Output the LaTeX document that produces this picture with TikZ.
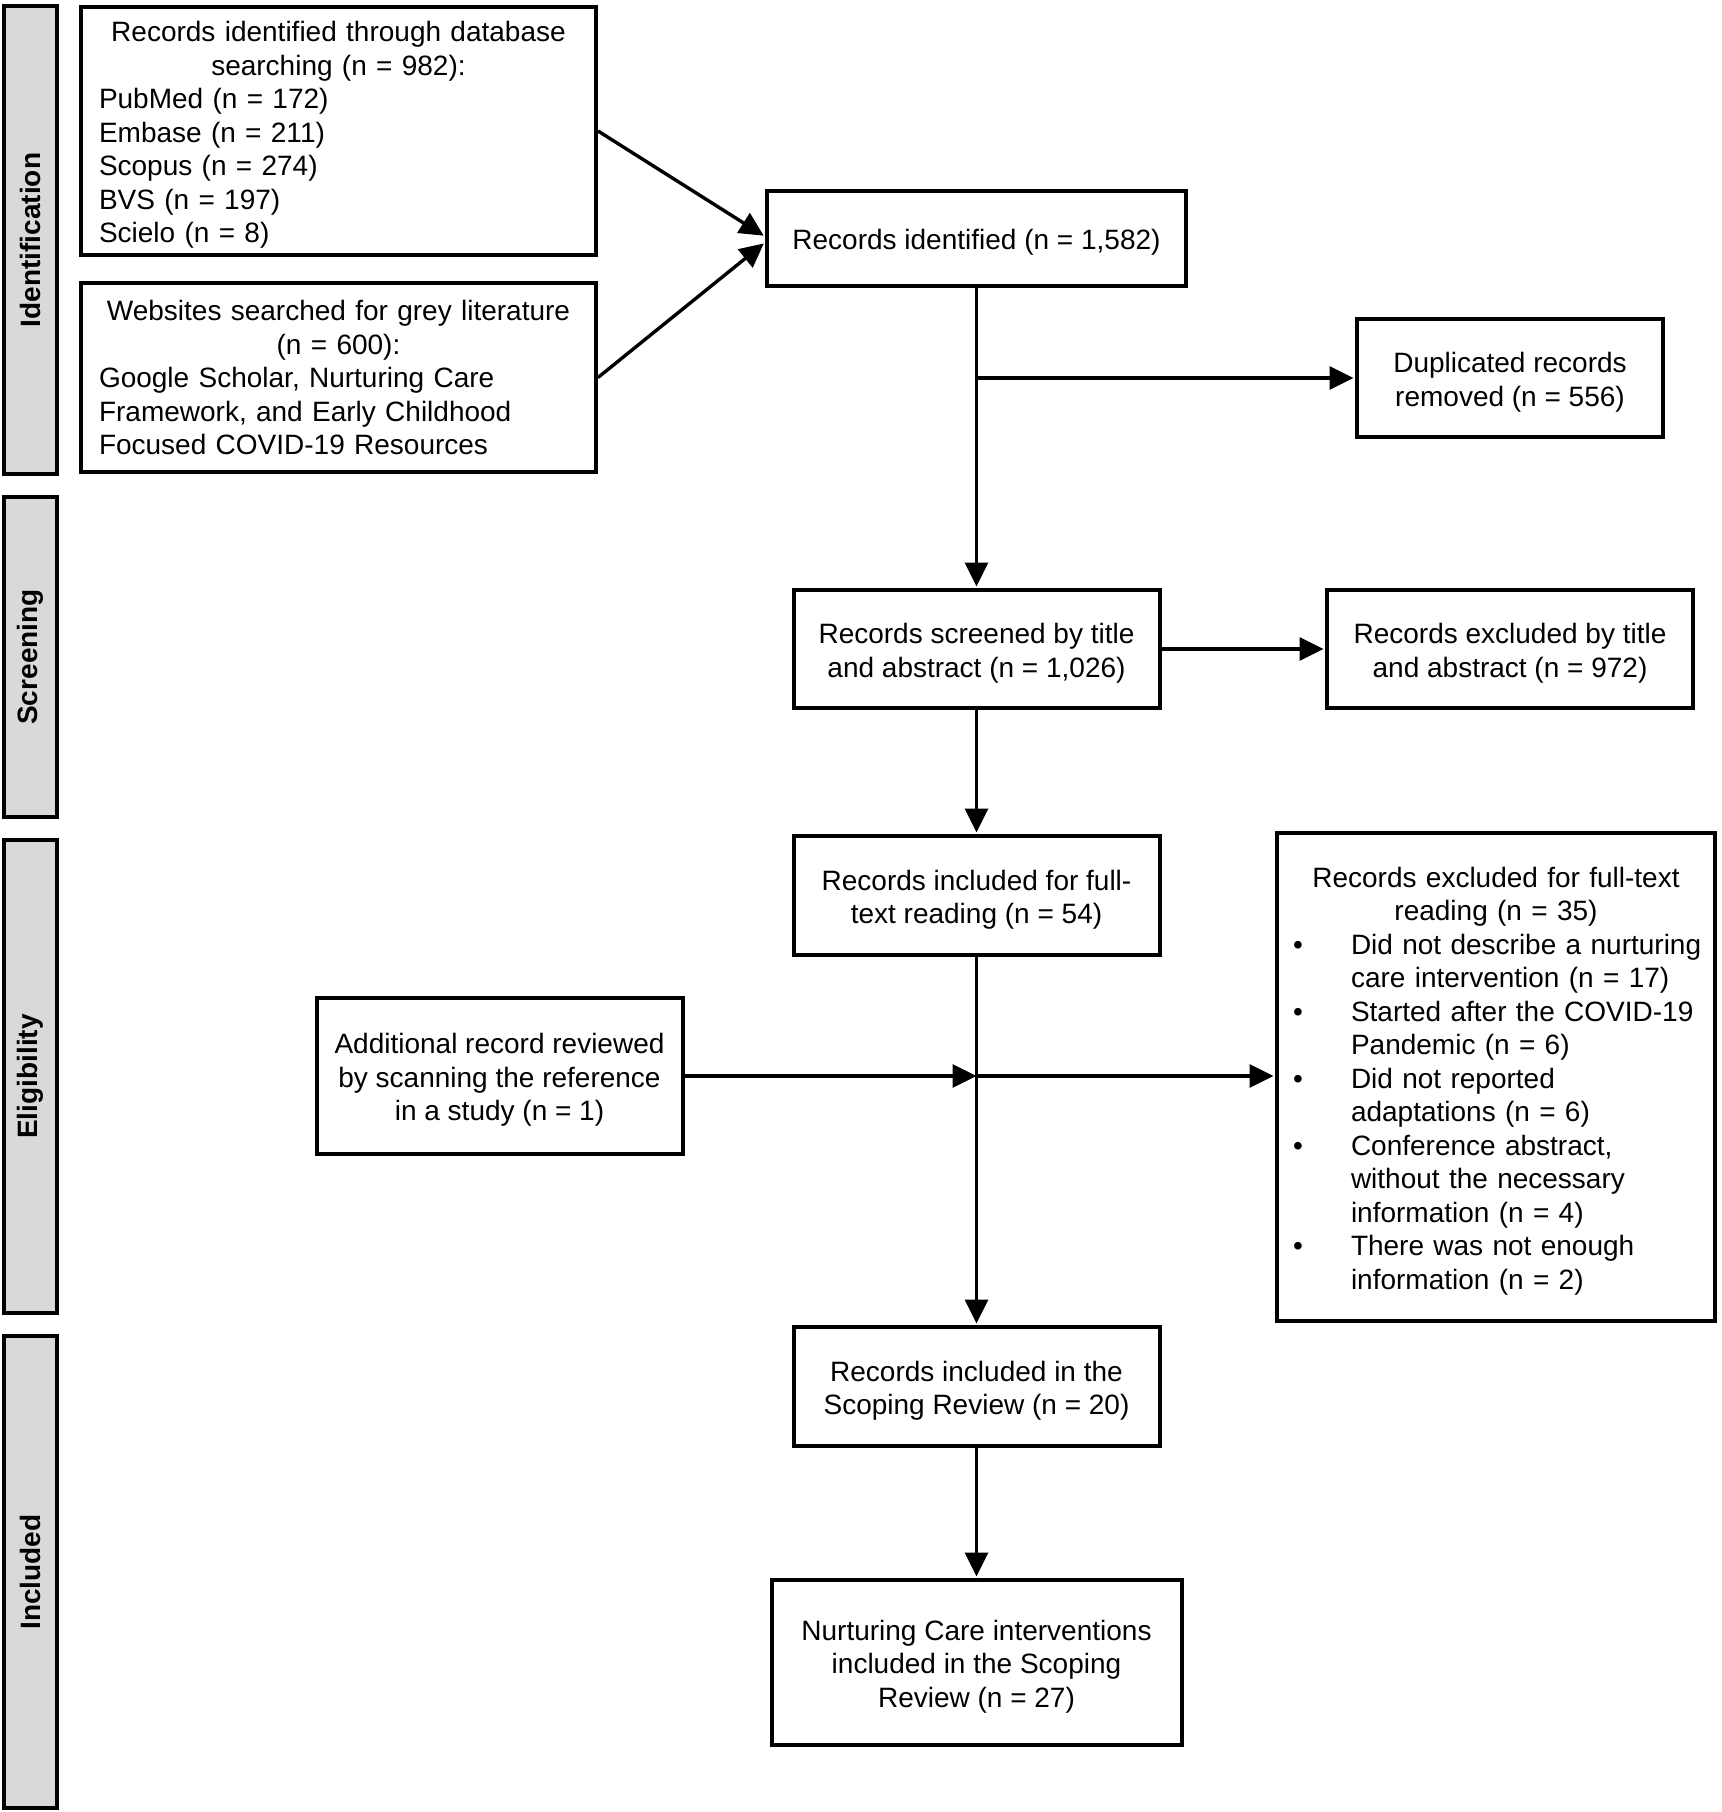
\documentclass[tikz,border=0pt]{standalone}
\usepackage{fontspec}
\setmainfont{Liberation Sans}
\usetikzlibrary{arrows.meta,calc}
\definecolor{barfill}{HTML}{D9D9D9}
\setlength{\parindent}{0pt}
\newcommand{\fsz}{\fontsize{28}{33.5}\selectfont}
\newcommand{\ts}{\rule{0pt}{28.6pt}}
\newcommand{\bitem}[1]{\par\noindent\hangindent=64pt\hangafter=1\makebox[64pt][l]{\hspace{6pt}\textbullet}#1\par}
\begin{document}
\begin{tikzpicture}[x=1pt,y=-1pt,
  box/.style={draw, line width=4pt, inner sep=0pt, align=center, font=\fsz},
  bar/.style={draw, line width=4pt, fill=barfill, rotate=90, minimum height=53pt, inner sep=0pt, font=\fsz\bfseries},
  arr/.style={line width=3.4pt, -{Triangle[length=24pt,width=23pt]}, shorten >=1.5pt},
  ln/.style={line width=3.4pt}]
\useasboundingbox (0,0) rectangle (1721,1812);

% phase bars
\node[bar, minimum width=468pt] (b1) at (30.5,240) {Identification};
\node[bar, minimum width=320pt] (b2) at (30.5,657) {Screening};
\node[bar, minimum width=473pt] (b3) at (30.5,1076.5) {Eligibility};
\node[bar, minimum width=472pt] (b4) at (30.5,1572) {Included};

% boxes
\node[box, align=left, text width=479pt, inner xsep=18pt, minimum height=248pt] (db) at (338.5,131)
  {{\centering\ts Records identified through database\\searching (n = 982):\par}PubMed (n = 172)\\Embase (n = 211)\\Scopus (n = 274)\\BVS (n = 197)\\Scielo (n = 8)};
\node[box, align=left, text width=479pt, inner xsep=18pt, minimum height=189pt] (grey) at (338.5,377.5)
  {{\centering Websites searched for grey literature\\(n = 600):\par}Google Scholar, Nurturing Care\\Framework, and Early Childhood\\Focused COVID-19 Resources};
\node[box, minimum width=419pt, minimum height=95pt] (ident) at (976.5,238.5) {\ts Records identified (n = 1,582)};
\node[box, minimum width=306pt, minimum height=118pt] (dup) at (1510,378) {\ts Duplicated records\\removed (n = 556)};
\node[box, minimum width=366pt, minimum height=118pt] (screened) at (976.5,649) {\ts Records screened by title\\and abstract (n = 1,026)};
\node[box, minimum width=366pt, minimum height=118pt] (excltitle) at (1510,649) {\ts Records excluded by title\\and abstract (n = 972)};
\node[box, minimum width=366pt, minimum height=119pt] (fulltext) at (976.5,895.5) {\ts Records included for full-\\text reading (n = 54)};
\node[box, align=left, text width=418pt, inner xsep=10pt, minimum height=488pt] (exclfull) at (1496,1077)
  {{\centering\ts Records excluded for full-text\\reading (n = 35)\par}%
   \bitem{Did not describe a nurturing\newline care intervention (n = 17)}%
   \bitem{Started after the COVID-19\newline Pandemic (n = 6)}%
   \bitem{Did not reported\newline adaptations (n = 6)}%
   \bitem{Conference abstract,\newline without the necessary\newline information (n = 4)}%
   \bitem{There was not enough\newline information (n = 2)}};
\node[box, minimum width=366pt, minimum height=156pt] (additional) at (499.5,1076) {\ts Additional record reviewed\\by scanning the reference\\in a study (n = 1)};
\node[box, minimum width=366pt, minimum height=119pt] (incl) at (976.5,1386.5) {\ts Records included in the\\Scoping Review (n = 20)};
\node[box, minimum width=410pt, minimum height=165pt] (nurt) at (976.5,1662.5) {\ts Nurturing Care interventions\\included in the Scoping\\Review (n = 27)};

% connectors
\draw[arr] (db.east) -- ([yshift=2pt]ident.west);
\draw[arr] (grey.east) -- ([yshift=-4pt]ident.west);
\draw[arr] (ident.south) -- (screened.north);
\coordinate (j1) at (ident.south |- dup.west);
\draw[arr] (j1) -- (dup.west);
\draw[arr] (screened.east) -- (excltitle.west);
\draw[arr] (screened.south) -- (fulltext.north);
\draw[arr] (fulltext.south) -- (incl.north);
\coordinate (j2) at (fulltext.south |- additional.east);
\draw[arr, shorten >=0pt] (additional.east) -- (j2);
\draw[arr] (j2) -- (j2 -| exclfull.west);
\draw[arr] (incl.south) -- (nurt.north);
\end{tikzpicture}
\end{document}
